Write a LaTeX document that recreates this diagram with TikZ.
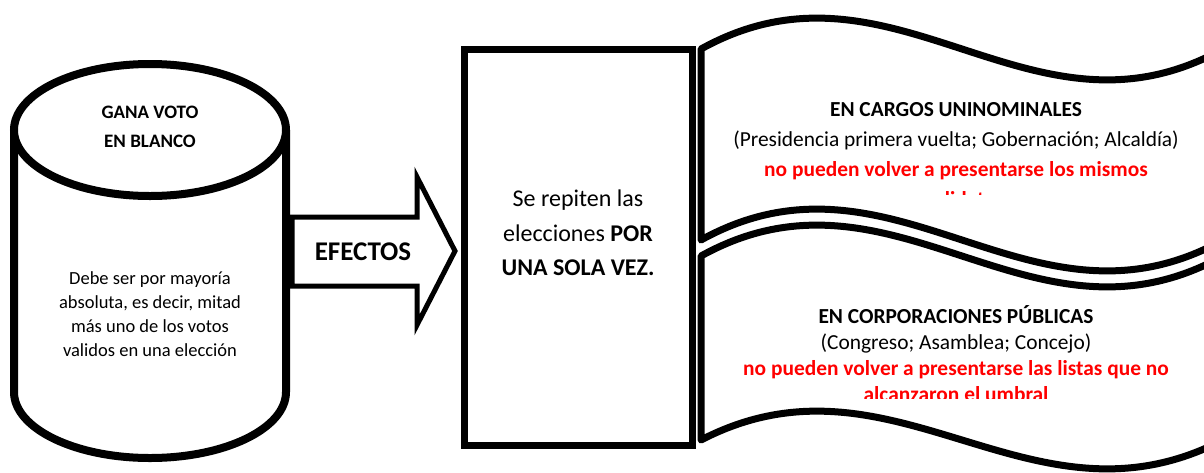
\documentclass[tikz,border=0pt]{standalone}
\usepackage{fontspec}
\setmainfont{Carlito}
\definecolor{redtxt}{RGB}{255,0,0}
\begin{document}
\begin{tikzpicture}[x=1pt,y=-1pt,
  cyl/.style={line width=8pt,draw=black,fill=white},
  arrowshape/.style={line width=5pt,draw=black,fill=white,line join=miter},
  boxshape/.style={line width=7pt,draw=black,fill=white,line join=miter},
  banner/.style={line width=7pt,draw=black,fill=white,line join=round},
  txt/.style={inner sep=0pt,align=center,text=black}]
\useasboundingbox (0,0) rectangle (1204,472);
% cylinder
\draw[cyl] (14,130) -- (14,392) arc[start angle=180,end angle=0,x radius=136,y radius=66] -- (286,130);
\draw[cyl] (150,130) ellipse[x radius=136,y radius=66];
\node[txt,font=\fontsize{19}{29}\selectfont\bfseries] (top) at (150,127) {GANA VOTO\\EN BLANCO};
\node[txt,font=\fontsize{18.5}{24}\selectfont] (body) at (150,314) {Debe ser por mayoría\\absoluta, es decir, mitad\\más uno de los votos\\validos en una elección};
% arrow
\draw[arrowshape] (292,217) -- (417,217) -- (417,177) -- (455,251) -- (417,325) -- (417,286) -- (292,286) -- cycle;
\node[txt,font=\fontsize{27}{30}\selectfont\bfseries] (efectos) at (363,252) {EFECTOS};
% rectangle
\draw[boxshape] (464.5,49) rectangle (692,445);
\node[txt,font=\fontsize{24}{34.5}\selectfont] (repite) at (578,233) {Se repiten las\\elecciones \textbf{POR}\\\textbf{UNA SOLA VEZ.}};
% banner 1
\draw[banner] (701,49) .. controls (894,-58) and (1030,156) .. (1223,49) -- (1223,240) .. controls (1030,347) and (894,133) .. (701,240) -- cycle;
\begin{scope}
\clip (705,60) rectangle (1204,194);
\node[txt,font=\fontsize{21.4}{30}\selectfont] (cargos) at (956,155) {\textbf{EN CARGOS UNINOMINALES}\\(Presidencia primera vuelta; Gobernación; Alcaldía)\\\textcolor{redtxt}{\textbf{no pueden volver a presentarse los mismos}}\\\textcolor{redtxt}{\textbf{candidatos}}};
\end{scope}
% banner 2
\draw[banner] (701,256) .. controls (894,149) and (1030,363) .. (1223,256) -- (1223,440) .. controls (1030,540) and (894,340) .. (701,440) -- cycle;
\begin{scope}
\clip (705,270) rectangle (1204,398);
\node[txt,font=\fontsize{21.4}{26}\selectfont] (corp) at (956,354) {\textbf{EN CORPORACIONES PÚBLICAS}\\(Congreso; Asamblea; Concejo)\\\textcolor{redtxt}{\textbf{no pueden volver a presentarse las listas que no}}\\\textcolor{redtxt}{\textbf{alcanzaron el umbral}}};
\end{scope}
\end{tikzpicture}
\end{document}
